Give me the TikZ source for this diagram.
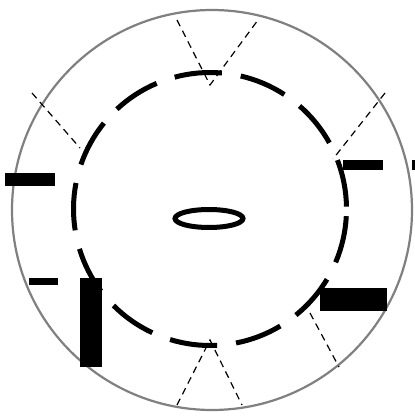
\documentclass[tikz,border=0pt]{standalone}
\begin{document}
\begin{tikzpicture}[x=1pt,y=1pt,
  ring/.style={draw=black!50,line width=2.2pt},
  dashring/.style={draw=black,line width=5pt},
  bar/.style={fill=black,draw=none},
  ray/.style={draw=black,line width=1.2pt,dash pattern=on 7pt off 5pt}]
\useasboundingbox (0,0) rectangle (415,416);
\fill[white] (0,0) rectangle (415,416);
% outer circle
\coordinate (oc) at (212,206);
\draw[ring] (oc) circle[radius=200];
% inner dashed circle, drawn as 13 arcs
\coordinate (ic) at (210,207);
\foreach \k in {0,...,12}{
  \pgfmathsetmacro{\sa}{1+28*\k}
  \pgfmathsetmacro{\ea}{\sa+20}
  \draw[dashring] ([shift={(\sa:136.5)}]ic) arc[start angle=\sa,end angle=\ea,radius=136.5];
}
% central ellipse
\coordinate (el) at (209,197.5);
\draw[line width=5pt] (el) ellipse[x radius=34,y radius=9];
% thin dashed rays
\coordinate (ta) at (210,331);
\coordinate (tl) at (177,396);
\coordinate (tr) at (258,396);
\coordinate (ba) at (210,76);
\coordinate (bl) at (177,11);
\coordinate (br) at (242,11);
\coordinate (ul1) at (32,323);
\coordinate (ul2) at (80,268);
\coordinate (ur1) at (385,323);
\coordinate (ur2) at (333,257);
\coordinate (lr1) at (310,103);
\coordinate (lr2) at (339,49);
\draw[ray] (tl) -- (ta) -- (tr);
\draw[ray] (bl) -- (ba) -- (br);
\draw[ray] (ul1) -- (ul2);
\draw[ray] (ur1) -- (ur2);
\draw[ray] (lr1) -- (lr2);
% black bars
\fill[bar] (5,230) rectangle (55,243);
\fill[bar] (29,131) rectangle (58,138);
\fill[bar] (80,49) rectangle (102,138);
\fill[bar] (343,246) rectangle (383,256);
\fill[bar] (412,246) rectangle (415,256);
\fill[bar] (320,105) rectangle (387,128);
\end{tikzpicture}
\end{document}
